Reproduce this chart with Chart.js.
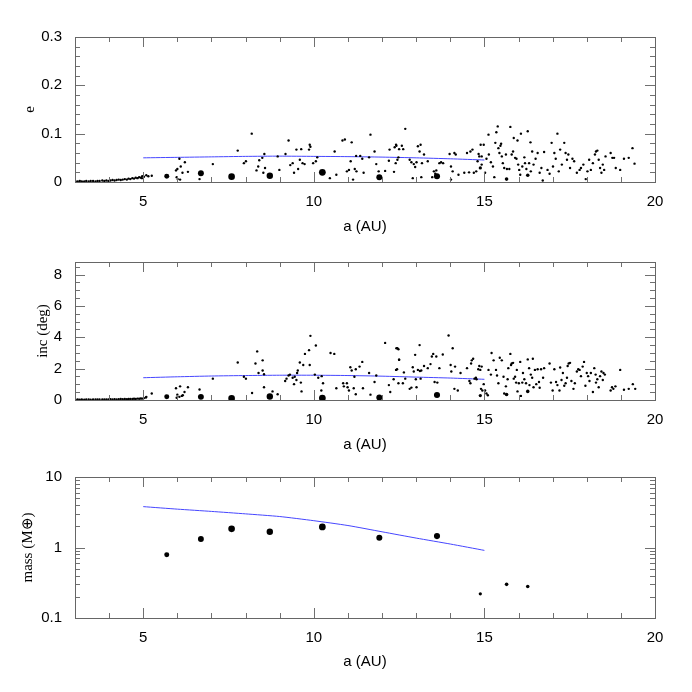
<!DOCTYPE html>
<html>
<head>
<meta charset="utf-8">
<script src="https://cdn.jsdelivr.net/npm/chart.js@4/dist/chart.umd.min.js"></script>
<style>
  body { margin:0; background:#fff; }
  #wrap { position:relative; width:692px; height:692px; }
  canvas { position:absolute; left:0; }
</style>
</head>
<body>
<div id="wrap">
  <canvas id="c1" width="692" height="240" style="top:0px"></canvas>
  <canvas id="c2" width="692" height="215" style="top:240px"></canvas>
  <canvas id="c3" width="692" height="237" style="top:455px"></canvas>
</div>
<script>
// tick labels
const aTicks = [5, 10, 15, 20];
const eTicks = [0, 0.1, 0.2, 0.3];
const incTicks = [0, 2, 4, 6, 8];
const massTicks = [0.1, 1, 10];

// big bodies (planets)
const planetA    = [5.69, 6.69, 7.59, 8.71, 10.25, 11.92, 13.61, 14.88, 15.65, 16.27];
const planetE    = [0.012, 0.018, 0.011, 0.013, 0.020, 0.010, 0.012, 0.029, 0.006, 0.014];
const planetInc  = [0.20, 0.20, 0.10, 0.22, 0.12, 0.16, 0.32, 0.28, 0.35, 0.55];
const planetMass = [0.79, 1.32, 1.84, 1.67, 1.96, 1.38, 1.45, 0.22, 0.30, 0.28];

// blue curve
const lineA    = [5, 6, 7, 8, 9, 10, 11, 12, 13, 14, 15];
const lineE    = [0.050, 0.051, 0.052, 0.053, 0.0535, 0.053, 0.0525, 0.0515, 0.050, 0.048, 0.0455];
const lineInc  = [1.42, 1.48, 1.53, 1.56, 1.58, 1.58, 1.56, 1.52, 1.46, 1.40, 1.32];
const lineMass = [3.8, 3.5, 3.25, 3.0, 2.75, 2.4, 2.05, 1.67, 1.36, 1.12, 0.91];

// small bodies, eccentricity panel
const dustAe = [3.02,3.08,3.14,3.2,3.27,3.33,3.4,3.46,3.53,3.6,3.66,3.72,3.8,3.86,3.92,3.98,4.04,4.1,4.16,4.22,4.28,4.34,4.4,4.46,4.52,4.57,4.62,4.68,4.73,4.78,4.83,4.88,4.93,4.97,5.02,5.15,
  4.96,5.09,5.25,5.96,6.00,6.06,6.10,6.15,6.22,6.31,6.01,6.08,5.98,6.65,7.04,7.77,7.95,8.01,8.18,8.32,8.40,8.37,8.49,8.55,8.52,8.57,8.94,8.99,9.17,9.26,9.31,9.38,9.42,9.49,9.54,9.63,9.59,9.67,9.73,9.88,9.86,9.90,9.98,10.06,10.10,
  10.47,10.61,10.66,10.84,10.91,10.97,11.03,11.08,11.11,11.20,11.24,11.15,11.25,11.36,11.42,11.46,11.62,11.66,11.78,11.83,11.90,12.09,12.20,12.22,12.37,12.42,12.48,12.35,
  12.68,12.41,12.50,12.58,12.62,12.45,12.40,12.81,12.86,12.93,13.01,12.97,13.05,13.10,13.13,13.17,13.23,12.90,13.15,13.34,13.47,13.52,13.56,13.59,13.68,13.73,13.79,13.98,14.02,14.07,14.12,14.16,14.24,14.02,14.41,14.49,14.55,14.59,14.65,14.69,14.76,14.80,14.83,14.85,14.89,14.92,14.92,14.98,
  15.02,15.06,15.12,15.13,15.19,15.25,15.29,15.32,15.35,15.39,15.41,15.44,15.47,15.49,15.51,15.54,15.58,15.63,15.66,15.73,15.76,15.80,15.84,15.86,15.90,15.94,15.97,15.99,16.02,16.05,16.07,16.11,16.17,16.19,16.23,16.27,16.31,16.35,16.36,16.40,16.44,16.50,16.56,16.62,16.67,16.71,16.75,16.85,16.91,16.97,
  17.01,17.05,17.09,17.14,17.18,17.22,17.27,17.34,17.38,17.42,17.46,17.51,17.58,17.63,17.71,17.79,17.83,17.90,17.97,18.02,18.07,18.12,18.18,18.24,18.27,18.31,18.35,18.39,18.43,18.47,18.51,18.55,18.70,18.75,18.80,18.85,18.98,19.09,19.23,19.34,19.40];
const dustE = [0.001,0.001,0.002,0.001,0.001,0.002,0.001,0.002,0.002,0.001,0.002,0.002,0.003,0.002,0.003,0.002,0.003,0.004,0.003,0.004,0.005,0.004,0.005,0.006,0.005,0.007,0.006,0.008,0.007,0.009,0.008,0.010,0.009,0.012,0.011,0.012,
  0.008,0.014,0.013,0.024,0.027,0.048,0.032,0.019,0.041,0.021,0.006,0.005,0.010,0.006,0.037,0.065,0.039,0.043,0.100,0.024,0.045,0.032,0.050,0.058,0.019,0.029,0.053,0.025,0.058,0.086,0.035,0.039,0.019,0.067,0.027,0.068,0.046,0.039,0.037,0.077,0.067,0.073,0.039,0.043,0.051,
  0.008,0.063,0.015,0.086,0.088,0.022,0.025,0.043,0.082,0.027,0.054,0.005,0.022,0.054,0.048,0.019,0.051,0.098,0.063,0.037,0.022,0.023,0.044,0.067,0.072,0.075,0.051,0.021,
  0.110,0.077,0.068,0.075,0.068,0.046,0.039,0.046,0.041,0.037,0.041,0.031,0.074,0.063,0.077,0.039,0.057,0.008,0.010,0.043,0.010,0.022,0.017,0.024,0.039,0.041,0.039,0.058,0.032,0.022,0.060,0.057,0.015,0.005,0.019,0.060,0.020,0.063,0.067,0.019,0.022,0.043,0.058,0.053,0.077,0.053,0.036,0.077,
  0.019,0.048,0.098,0.057,0.041,0.032,0.010,0.081,0.103,0.115,0.070,0.060,0.075,0.079,0.053,0.039,0.029,0.057,0.027,0.027,0.114,0.057,0.063,0.091,0.050,0.048,0.086,0.036,0.025,0.015,0.100,0.032,0.051,0.039,0.027,0.105,0.039,0.082,0.022,0.063,0.036,0.048,0.060,0.019,0.029,0.003,0.062,0.025,0.017,0.081,
  0.032,0.060,0.048,0.100,0.022,0.067,0.036,0.081,0.060,0.046,0.057,0.029,0.048,0.043,0.019,0.025,0.029,0.036,0.006,0.022,0.046,0.025,0.039,0.057,0.063,0.065,0.046,0.029,0.019,0.036,0.025,0.053,0.060,0.050,0.050,0.029,0.025,0.048,0.050,0.070,0.038];

// small bodies, inclination panel
const dustAi = [3.02,3.08,3.14,3.2,3.27,3.33,3.4,3.46,3.53,3.6,3.66,3.72,3.8,3.86,3.92,3.98,4.04,4.1,4.16,4.22,4.28,4.34,4.4,4.46,4.52,4.57,4.62,4.68,4.73,4.78,4.83,4.88,4.93,4.97,5.02,5.08,
  5.09,5.25,5.96,6.00,6.06,6.08,6.13,6.16,6.21,6.31,5.98,6.65,7.04,7.77,7.95,8.01,8.19,8.29,8.34,8.38,8.50,8.50,8.54,8.54,8.79,8.94,9.16,9.20,9.26,9.30,9.38,9.42,9.44,9.49,9.51,9.53,9.59,9.62,9.64,9.69,9.74,9.86,9.88,9.90,10.03,10.06,10.13,10.22,10.23,10.27,
  10.49,10.60,10.66,10.86,10.88,10.97,10.99,11.03,11.07,11.11,11.17,11.19,11.23,11.23,11.34,11.42,11.44,11.62,11.66,11.78,11.83,12.09,12.20,12.24,12.34,12.42,12.44,12.48,12.50,
  12.45,12.50,12.41,12.48,12.61,12.64,12.68,12.81,12.86,12.90,12.93,12.97,12.99,13.01,13.05,13.10,13.11,13.13,13.15,13.23,13.34,13.42,13.46,13.50,13.54,13.59,13.62,13.68,13.78,13.95,14.01,14.03,14.07,14.12,14.14,14.22,14.30,14.49,14.56,14.59,14.61,14.63,14.67,14.71,14.75,14.77,14.82,14.85,14.88,14.90,14.92,14.94,14.98,
  15.02,15.06,15.10,15.12,15.19,15.21,15.27,15.34,15.37,15.41,15.45,15.51,15.56,15.58,15.63,15.68,15.70,15.76,15.78,15.80,15.84,15.86,15.90,15.93,15.95,15.97,16.01,16.05,16.07,16.11,16.13,16.17,16.22,16.27,16.31,16.32,16.36,16.40,16.42,16.44,16.48,16.52,16.56,16.60,16.62,16.66,16.72,16.75,16.91,16.95,
  17.00,17.05,17.10,17.14,17.20,17.22,17.26,17.30,17.34,17.38,17.42,17.44,17.47,17.51,17.55,17.61,17.65,17.71,17.75,17.79,17.83,17.88,17.92,17.96,18.00,18.04,18.08,18.12,18.18,18.22,18.26,18.27,18.31,18.35,18.39,18.43,18.47,18.49,18.53,18.70,18.74,18.78,18.84,18.98,19.09,19.23,19.35,19.42];
const dustInc = [0.02,0.03,0.02,0.03,0.02,0.03,0.03,0.02,0.03,0.04,0.03,0.03,0.04,0.03,0.04,0.04,0.05,0.04,0.05,0.04,0.05,0.06,0.05,0.06,0.05,0.07,0.06,0.07,0.08,0.07,0.09,0.08,0.10,0.09,0.12,0.16,
  0.20,0.41,0.75,0.34,0.20,0.87,0.26,0.30,0.51,0.81,0.14,0.67,1.36,2.39,1.48,1.36,0.45,2.33,3.10,1.72,2.53,1.88,1.64,0.81,0.55,0.37,1.21,1.36,1.56,1.62,1.42,1.01,1.48,1.28,1.72,1.88,2.39,1.11,0.55,2.23,2.94,3.18,2.23,4.09,1.62,3.48,1.42,0.61,1.52,1.07,
  3.00,2.94,0.75,1.07,0.87,1.07,0.81,0.61,2.09,1.88,0.75,1.48,1.96,0.37,2.13,2.43,0.75,1.72,0.34,1.15,1.56,3.64,0.95,0.51,1.32,3.30,1.96,3.24,2.57,
  3.30,2.57,1.92,1.07,1.07,1.76,1.36,0.71,0.79,2.09,1.82,2.88,1.32,0.81,1.92,3.50,1.85,1.36,1.88,2.17,2.03,2.29,2.77,2.94,1.15,2.77,1.11,2.03,2.90,4.11,2.23,1.82,3.30,0.71,2.13,0.61,1.72,2.03,1.21,1.07,2.33,2.53,2.63,1.36,1.42,1.32,1.96,2.17,1.92,0.71,2.13,0.61,1.01,
  0.61,0.41,0.30,1.92,1.62,3.00,2.53,1.92,1.56,1.07,2.69,2.53,1.48,0.41,0.87,1.32,2.03,2.94,2.23,2.33,2.37,1.36,1.48,1.11,1.92,0.55,1.07,2.43,0.26,1.11,1.72,1.32,1.07,2.59,2.03,0.95,1.62,1.42,2.63,0.81,1.92,1.01,1.96,1.15,0.78,1.96,1.42,2.03,2.33,1.11,
  0.61,1.96,1.15,0.95,0.61,2.07,1.28,1.72,0.91,1.07,1.42,2.17,2.33,2.37,1.21,0.71,1.07,1.82,1.96,1.92,1.52,2.13,2.43,0.91,1.72,1.52,1.21,1.72,0.51,2.03,1.62,1.11,1.32,0.81,1.52,1.82,1.28,1.72,1.62,0.61,0.81,0.71,0.87,1.92,0.65,0.71,1.01,0.71];

const pts = (xs, ys) => xs.map((x, i) => ({x: x, y: ys[i]}));
const planetRadius = ctx => 2.7 * Math.cbrt(planetMass[ctx.dataIndex]);

const tickFont = {family: 'Liberation Sans, Arial, sans-serif', size: 15};
const titleFontX = {family: 'Liberation Sans, Arial, sans-serif', size: 15};
const titleFontY = {family: 'Liberation Serif, Times New Roman, serif', size: 15};

// y minor/major tick spacing per canvas
const tickSpecs = {
  c1: {max: 0.3, minor: 0.02, major: 0.1},
  c2: {max: 8.5, minor: 0.5, major: 2},
  c3: {log: true}
};

// frame with inward ticks on all four sides
const frameTicks = {
  id: 'frameTicks',
  afterDraw(chart) {
    const o = tickSpecs[chart.canvas.id];
    const ctx = chart.ctx, ca = chart.chartArea;
    const xs = chart.scales.x, ys = chart.scales.y;
    const L = Math.round(ca.left), R = Math.round(ca.right);
    const T = Math.round(ca.top), B = Math.round(ca.bottom);
    ctx.save();
    ctx.fillStyle = '#707070';
    for (let v = 3; v <= 20; v++) {
      const px = Math.round(xs.getPixelForValue(v));
      const len = v % 5 === 0 ? 10 : 5;
      ctx.fillRect(px, B - len, 1, len);
      ctx.fillRect(px, T, 1, len);
    }
    const yv = [];
    if (o.log) {
      [0.1, 1].forEach(d => { for (let k = 1; k <= 9; k++) yv.push([d * k, k === 1]); });
      yv.push([10, true]);
    } else {
      const n = Math.round(o.max / o.minor);
      for (let k = 0; k <= n; k++) {
        const v = k * o.minor;
        yv.push([v, Math.abs(v / o.major - Math.round(v / o.major)) < 1e-6]);
      }
    }
    yv.forEach(p => {
      const py = Math.round(ys.getPixelForValue(p[0]));
      const len = p[1] ? 10 : 5;
      ctx.fillRect(L, py, len, 1);
      ctx.fillRect(R - len, py, len, 1);
    });
    ctx.fillStyle = '#666';
    ctx.fillRect(L, T, R - L + 1, 1);
    ctx.fillRect(L, B, R - L + 1, 1);
    ctx.fillRect(L, T, 1, B - T + 1);
    ctx.fillRect(R, T, 1, B - T + 1);
    ctx.restore();
  }
};

function makeChart(id, cfg) {
  const datasets = [
    {data: pts(cfg.dustX, cfg.dustY), pointRadius: 1.2, pointBorderWidth: 0,
     backgroundColor: '#000', pointHoverRadius: 0},
    {data: pts(planetA, cfg.planetY), pointRadius: planetRadius, pointBorderWidth: 0,
     backgroundColor: '#000', pointHoverRadius: 0},
    {data: pts(lineA, cfg.lineY), showLine: true, pointRadius: 0, borderWidth: 1,
     borderColor: 'rgb(70,70,255)', backgroundColor: 'rgb(70,70,255)', tension: 0.2}
  ];
  return new Chart(document.getElementById(id), {
    type: 'scatter',
    data: {datasets: datasets},
    options: {
      responsive: false,
      animation: false,
      events: [],
      layout: {padding: {top: cfg.top, right: 37, left: 0, bottom: 0}},
      plugins: {legend: {display: false}, tooltip: {enabled: false}},
      scales: {
        x: {
          type: 'linear', min: 3, max: 20,
          afterBuildTicks: s => { s.ticks = aTicks.map(v => ({value: v})); },
          afterFit: s => { s.height = cfg.xHeight; },
          grid: {display: false, drawTicks: false},
          border: {display: false},
          ticks: {font: tickFont, color: '#000', padding: 11, maxRotation: 0},
          title: {display: true, text: 'a (AU)', font: titleFontX, color: '#000',
                  padding: {top: 0, bottom: cfg.xTitlePad}}
        },
        y: {
          type: cfg.yType, min: cfg.yMin, max: cfg.yMax,
          afterBuildTicks: s => { s.ticks = cfg.yTicks.map(v => ({value: v})); },
          afterFit: s => { s.width = 75; },
          grid: {display: false, drawTicks: false},
          border: {display: false},
          ticks: {font: tickFont, color: '#000', padding: 13, callback: v => String(v)},
          title: {display: true, text: cfg.yTitle, font: titleFontY, color: '#000',
                  padding: {top: cfg.yTitlePad, bottom: 0}}
        }
      }
    },
    plugins: [frameTicks]
  });
}

makeChart('c1', {
  dustX: dustAe, dustY: dustE, planetY: planetE, lineY: lineE,
  top: 37, xHeight: 58, xTitlePad: 4,
  yType: 'linear', yMin: 0, yMax: 0.3, yTicks: eTicks, yTitle: 'e', yTitlePad: 21
});

makeChart('c2', {
  dustX: dustAi, dustY: dustInc, planetY: planetInc, lineY: lineInc,
  top: 15, xHeight: 55, xTitlePad: 1,
  yType: 'linear', yMin: 0, yMax: 8.8, yTicks: incTicks, yTitle: 'inc (deg)', yTitlePad: 34
});

makeChart('c3', {
  dustX: [], dustY: [], planetY: planetMass, lineY: lineMass,
  top: 19, xHeight: 74, xTitlePad: 21,
  yType: 'logarithmic', yMin: 0.1, yMax: 10, yTicks: massTicks, yTitle: 'mass (M⊕)', yTitlePad: 19
});
</script>
</body>
</html>
